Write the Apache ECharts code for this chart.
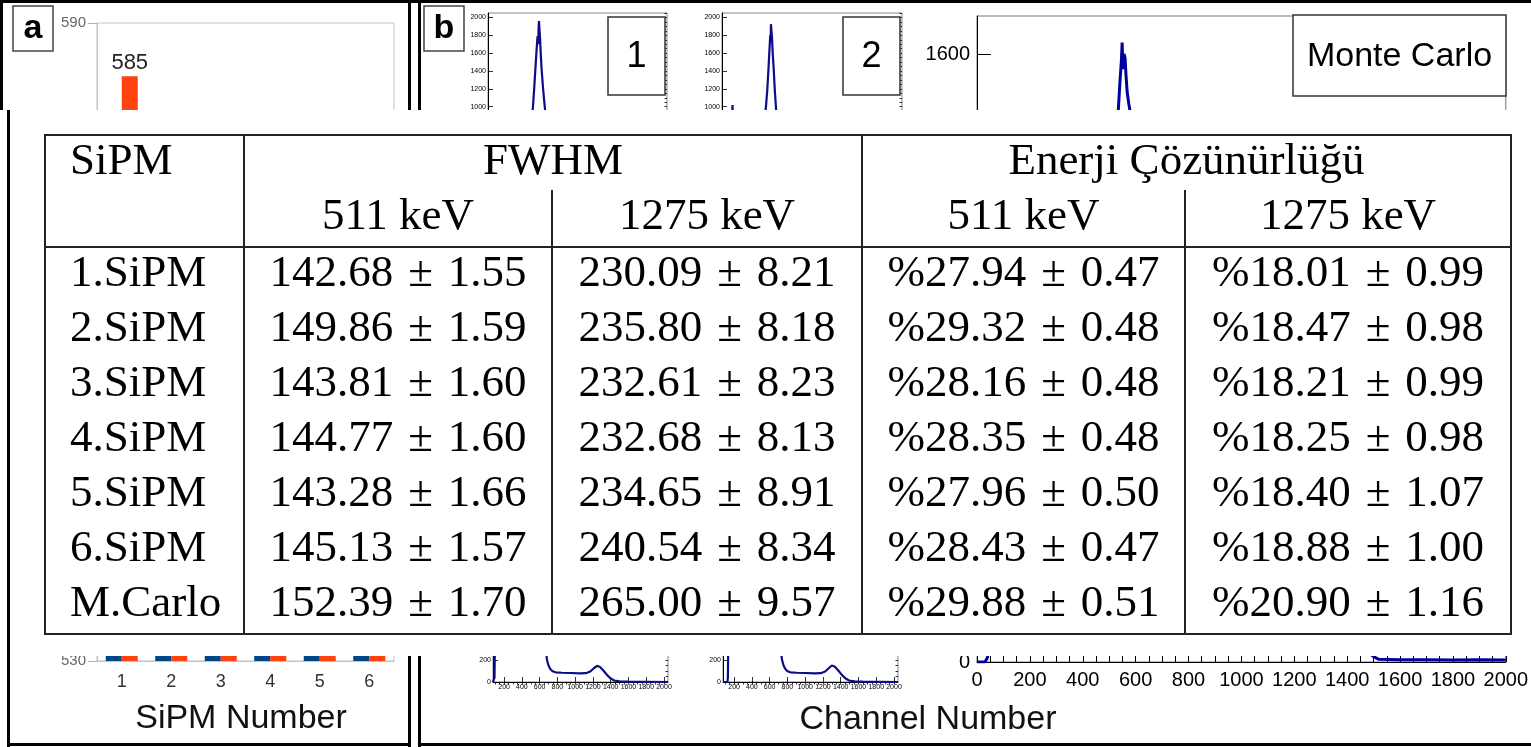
<!DOCTYPE html>
<html><head><meta charset="utf-8">
<script src="https://cdn.jsdelivr.net/npm/echarts@6/dist/echarts.min.js"></script>
<style>html,body{margin:0;padding:0;background:#fff}#c{width:1531px;height:747px}</style>
</head><body><div id="c"></div>
<script>
// ---------------- DATA ----------------
// Panel a (bar chart, mostly hidden behind the table)
const sipmCategories = ['1', '2', '3', '4', '5', '6'];
const barBlue   = [561, 566, 562, 565, 560, 567];
const barOrange = [585, 574, 571, 572, 569, 576];
const barAxisTicks = [530, 540, 550, 560, 570, 580, 590];

// Panel b histograms: [channel, counts]
const sipm1Hist = [[75,0],[90,250],[100,900],[110,800],[130,520],[170,380],[220,330],[280,320],[340,340],[400,380],[450,430],[500,520],[530,640],[550,780],[570,1000],[585,1230],[600,1480],[610,1640],[620,1790],[628,1700],[632,1880],[636,1960],[642,1860],[648,1760],[655,1600],[665,1420],[680,1220],[692,1080],[702,980],[715,800],[730,560],[745,360],[760,220],[780,140],[800,110],[900,95],[1000,90],[1100,85],[1150,92],[1200,120],[1250,148],[1290,140],[1330,105],[1370,60],[1410,25],[1450,10],[1500,6],[1600,4],[1800,3],[2000,1],[2045,0]];
const sipm2Hist = [[75,0],[90,250],[100,900],[112,800],[130,520],[170,390],[190,1020],[200,380],[220,340],[280,330],[340,350],[400,400],[450,470],[500,600],[530,760],[556,1000],[570,1180],[585,1450],[595,1650],[603,1800],[607,1720],[611,1925],[616,1850],[622,1780],[630,1600],[642,1400],[652,1200],[665,1000],[680,760],[695,520],[710,330],[730,200],[750,130],[780,100],[900,90],[1000,85],[1100,80],[1150,90],[1200,118],[1250,142],[1290,135],[1330,100],[1370,55],[1410,22],[1450,9],[1500,5],[1600,3],[1800,2],[2000,1],[2045,0]];
const sipm5Hist = [[75,0],[92,40],[97,400],[105,1300],[120,900],[150,560],[200,420],[260,380],[320,390],[380,430],[440,560],[490,900],[520,1300],[545,1750],[560,1900],[575,1750],[600,1300],[625,900],[650,520],[668,300],[683,200],[700,150],[720,118],[745,98],[780,88],[850,84],[950,82],[1050,78],[1120,80],[1170,95],[1210,125],[1246,147],[1280,136],[1320,102],[1360,62],[1400,32],[1440,14],[1500,5],[1600,3],[1800,2],[2045,0]];
const sipm6Hist = [[75,0],[125,0],[130,40],[135,420],[142,1250],[160,880],[200,560],[250,430],[300,390],[360,400],[420,440],[470,560],[520,880],[555,1250],[590,1750],[612,1880],[630,1750],[655,1300],[680,900],[705,520],[723,300],[740,200],[757,150],[777,118],[800,98],[835,88],[905,84],[1005,82],[1105,78],[1175,80],[1225,95],[1265,125],[1300,150],[1335,138],[1375,102],[1415,62],[1455,32],[1495,14],[1555,5],[1650,3],[1850,2],[2045,0]];
const mcHist = [[0,0],[30,0],[40,12],[48,300],[60,900],[80,700],[120,500],[200,420],[300,450],[400,560],[460,760],[500,1050],[520,1260],[530,1400],[536,1470],[541,1530],[546,1580],[549,1630],[552,1560],[556,1600],[560,1590],[564,1540],[568,1500],[574,1470],[580,1445],[590,1300],[605,1000],[625,600],[650,350],[680,250],[750,220],[900,210],[1050,200],[1150,230],[1230,320],[1270,350],[1310,300],[1360,180],[1420,80],[1470,30],[1505,12],[1520,7],[1600,6],[1700,6],[1800,5],[1900,6],[2000,5]];

const smallXMajor = [200, 400, 600, 800, 1000, 1200, 1400, 1600, 1800, 2000];
const smallYMajor = [0, 200, 400, 600, 800, 1000, 1200, 1400, 1600, 1800, 2000];
const mcYMajor = [0, 200, 400, 600, 800, 1000, 1200, 1400, 1600];

// Table
const tableRowLabels = ['1.SiPM', '2.SiPM', '3.SiPM', '4.SiPM', '5.SiPM', '6.SiPM', 'M.Carlo'];
const fwhm511     = [142.68, 149.86, 143.81, 144.77, 143.28, 145.13, 152.39];
const fwhm511Err  = [1.55, 1.59, 1.60, 1.60, 1.66, 1.57, 1.70];
const fwhm1275    = [230.09, 235.80, 232.61, 232.68, 234.65, 240.54, 265.00];
const fwhm1275Err = [8.21, 8.18, 8.23, 8.13, 8.91, 8.34, 9.57];
const res511      = [27.94, 29.32, 28.16, 28.35, 27.96, 28.43, 29.88];
const res511Err   = [0.47, 0.48, 0.48, 0.48, 0.50, 0.47, 0.51];
const res1275     = [18.01, 18.47, 18.21, 18.25, 18.40, 18.88, 20.90];
const res1275Err  = [0.99, 0.98, 0.99, 0.98, 1.07, 1.00, 1.16];

// ---------------- LAYOUT ----------------
function seq(a, b, s) { const r = []; for (let v = a; v <= b + 1e-9; v += s) r.push(v); return r; }
const smallXMinor = seq(100, 2000, 50);
const smallYMinor = seq(0, 2050, 50);
const mcYMinor = seq(0, 1700, 50);
const plain = function (v) { return String(v); };

const SANS = '"Liberation Sans", Arial, sans-serif';
const SERIF = '"Liberation Serif", "Times New Roman", serif';
const HIST = '#0c0c8a';

const grids = [
  {left: 97, top: 23, width: 297, height: 638, show: true, borderColor: '#c3c3c3', borderWidth: 1},
  {left: 488, top: 13, width: 179, height: 183, show: true, borderColor: '#888', borderWidth: 1},
  {left: 722, top: 13, width: 180, height: 183, show: true, borderColor: '#888', borderWidth: 1},
  {left: 493, top: 462, width: 175, height: 220, show: true, borderColor: '#888', borderWidth: 1},
  {left: 723, top: 462, width: 175, height: 220, show: true, borderColor: '#888', borderWidth: 1},
  {left: 977, top: 16, width: 533, height: 646, show: true, borderColor: '#777', borderWidth: 1}
];

const xAxes = [{
  gridIndex: 0, type: 'category', data: sipmCategories,
  axisLine: {lineStyle: {color: '#c3c3c3', width: 1}},
  axisTick: {length: 6, lineStyle: {color: '#b3b3b3'}},
  axisLabel: {color: '#333', fontSize: 18, margin: 12, fontFamily: SANS}
}];
const yAxes = [{
  gridIndex: 0, type: 'value', min: 530, max: 590, interval: 10,
  axisLine: {show: true, lineStyle: {color: '#c3c3c3'}},
  axisTick: {show: true, length: 9, lineStyle: {color: '#b3b3b3'}},
  axisLabel: {color: '#666', fontSize: 15, margin: 11, fontFamily: SANS, customValues: barAxisTicks, formatter: plain},
  splitLine: {show: false}
}];

const series = [
  {type: 'bar', xAxisIndex: 0, yAxisIndex: 0, data: barBlue, barWidth: 16, barGap: '0%',
   itemStyle: {color: '#004586'}, label: {show: true, position: 'top', distance: 2, fontSize: 22, color: '#222', fontFamily: SANS}},
  {type: 'bar', xAxisIndex: 0, yAxisIndex: 0, data: barOrange, barWidth: 16, barGap: '0%',
   itemStyle: {color: '#ff420e'}, label: {show: true, position: 'top', distance: 2, fontSize: 22, color: '#222', fontFamily: SANS}}
];

function addSmall(g, ymax, data) {
  const xi = xAxes.length, yi = yAxes.length;
  xAxes.push({gridIndex: g, type: 'value', min: 75, max: 2045,
    axisLine: {lineStyle: {color: '#000', width: 1}},
    axisTick: {inside: true, length: 5, customValues: smallXMajor, lineStyle: {color: '#000', width: 0.8}},
    axisLabel: {customValues: smallXMajor, fontSize: 7, margin: 2, color: '#000', fontFamily: SANS, formatter: plain},
    splitLine: {show: false}});
  xAxes.push({gridIndex: g, type: 'value', min: 75, max: 2045,
    axisLine: {show: false}, axisLabel: {show: false}, splitLine: {show: false},
    axisTick: {inside: true, length: 2.5, customValues: smallXMinor, lineStyle: {color: '#000', width: 0.8}}});
  yAxes.push({gridIndex: g, type: 'value', min: 0, max: ymax,
    axisLine: {show: true, lineStyle: {color: '#000', width: 1}},
    axisTick: {show: true, inside: true, length: 5, customValues: smallYMajor, lineStyle: {color: '#000', width: 0.8}},
    axisLabel: {customValues: smallYMajor, fontSize: 7, margin: 2, color: '#000', fontFamily: SANS, formatter: plain},
    splitLine: {show: false}});
  yAxes.push({gridIndex: g, type: 'value', min: 0, max: ymax,
    axisLine: {show: false}, axisLabel: {show: false}, splitLine: {show: false},
    axisTick: {show: true, inside: true, length: 2.5, customValues: smallYMinor, lineStyle: {color: '#000', width: 0.8}}});
  series.push({type: 'line', xAxisIndex: xi, yAxisIndex: yi, data: data, showSymbol: false, symbol: 'none',
    lineStyle: {color: HIST, width: 2.2}, z: 3, silent: true});
}
addSmall(1, 2050, sipm1Hist);
addSmall(2, 2050, sipm2Hist);
addSmall(3, 2000, sipm5Hist);
addSmall(4, 2000, sipm6Hist);

(function addMC() {
  const xi = xAxes.length, yi = yAxes.length;
  xAxes.push({gridIndex: 5, type: 'value', min: 0, max: 2000, interval: 200,
    axisLine: {lineStyle: {color: '#000', width: 1}},
    axisTick: {inside: true, length: 12, lineStyle: {color: '#000'}},
    minorTick: {show: true, splitNumber: 4, length: 6, lineStyle: {color: '#000'}},
    axisLabel: {fontSize: 20, margin: 8, color: '#000', fontFamily: SANS, formatter: plain},
    splitLine: {show: false}, minorSplitLine: {show: false}});
  yAxes.push({gridIndex: 5, type: 'value', min: 0, max: 1700,
    axisLine: {show: true, lineStyle: {color: '#000', width: 1}},
    axisTick: {show: true, inside: true, length: 14, customValues: mcYMajor, lineStyle: {color: '#000'}},
    axisLabel: {customValues: mcYMajor, fontSize: 20, margin: 7, color: '#000', fontFamily: SANS, formatter: plain},
    splitLine: {show: false}});
  yAxes.push({gridIndex: 5, type: 'value', min: 0, max: 1700,
    axisLine: {show: false}, axisLabel: {show: false}, splitLine: {show: false},
    axisTick: {show: true, inside: true, length: 7, customValues: mcYMinor, lineStyle: {color: '#000'}}});
  series.push({type: 'line', xAxisIndex: xi, yAxisIndex: yi, data: mcHist, showSymbol: false, symbol: 'none',
    lineStyle: {color: '#0000a0', width: 3}, z: 3, silent: true});
})();

// ---------------- GRAPHIC (boxes, overlay table) ----------------
const G = [];
function rect(x, y, w, h, style, z) { G.push({type: 'rect', shape: {x: x, y: y, width: w, height: h}, style: style, z: z, silent: true}); }
function line(x1, y1, x2, y2, stroke, lw, z) { G.push({type: 'line', shape: {x1: x1, y1: y1, x2: x2, y2: y2}, style: {stroke: stroke, lineWidth: lw}, z: z, silent: true}); }
function text(x, y, t, font, align, z, fill) {
  G.push({type: 'text', x: x, y: y, z: z, silent: true,
    style: {text: t, font: font, textAlign: align, textVerticalAlign: 'middle', align: align, verticalAlign: 'middle', fill: fill || '#000'}});
}

// panel label boxes
rect(13, 6, 40, 45, {fill: '#fff', stroke: '#444', lineWidth: 1.5}, 60);
text(33, 29, 'a', 'bold 34px ' + SANS, 'center', 61);
rect(424, 6, 40, 45, {fill: '#fff', stroke: '#444', lineWidth: 1.5}, 60);
text(444, 29, 'b', 'bold 34px ' + SANS, 'center', 61);
// histogram legends
rect(608, 17, 57, 78, {fill: '#fff', stroke: '#333', lineWidth: 1.5}, 60);
text(636.5, 57, '1', '36px ' + SANS, 'center', 61);
rect(843, 17, 57, 78, {fill: '#fff', stroke: '#333', lineWidth: 1.5}, 60);
text(871.5, 57, '2', '36px ' + SANS, 'center', 61);
rect(1293, 15, 213, 81, {fill: '#fff', stroke: '#333', lineWidth: 1.5}, 60);
text(1399.5, 57, 'Monte Carlo', '34px ' + SANS, 'center', 61);
// axis titles
text(241, 719, 'SiPM Number', '34px ' + SANS, 'center', 61, '#111');
text(928, 720, 'Channel Number', '34px ' + SANS, 'center', 61, '#111');

// overlay white area carrying the table
rect(10, 110, 1521, 546, {fill: '#fff'}, 100);
const TL = 45, TR = 1511, TT = 135, TB = 634, TH = 247, TS = 190;
const C1 = 244, C2 = 552, C3 = 862, C4 = 1185;
const TC = '#222';
rect(TL, TT, TR - TL, TB - TT, {fill: 'none', stroke: TC, lineWidth: 2}, 101);
line(C1, TT, C1, TB, TC, 2, 101);
line(C3, TT, C3, TB, TC, 2, 101);
line(C2, TS, C2, TB, TC, 2, 101);
line(C4, TS, C4, TB, TC, 2, 101);
line(TL, TH, TR, TH, TC, 2, 101);

const F = '45px ' + SERIF;
const hy1 = 162, hy2 = 217;
text(70, hy1, 'SiPM', F, 'left', 102);
text((C1 + C3) / 2, hy1, 'FWHM', F, 'center', 102);
text((C3 + TR) / 2, hy1, 'Enerji Çözünürlüğü', F, 'center', 102);
const colC = [(C1 + C2) / 2, (C2 + C3) / 2, (C3 + C4) / 2, (C4 + TR) / 2];
text(colC[0], hy2, '511 keV', F, 'center', 102);
text(colC[1], hy2, '1275 keV', F, 'center', 102);
text(colC[2], hy2, '511 keV', F, 'center', 102);
text(colC[3], hy2, '1275 keV', F, 'center', 102);
const PM = '\u2004±\u2004';
for (let i = 0; i < tableRowLabels.length; i++) {
  const y = 274 + i * 55.1;
  text(70, y, tableRowLabels[i], F, 'left', 102);
  text(colC[0], y, fwhm511[i].toFixed(2) + PM + fwhm511Err[i].toFixed(2), F, 'center', 102);
  text(colC[1], y, fwhm1275[i].toFixed(2) + PM + fwhm1275Err[i].toFixed(2), F, 'center', 102);
  text(colC[2], y, '%' + res511[i].toFixed(2) + PM + res511Err[i].toFixed(2), F, 'center', 102);
  text(colC[3], y, '%' + res1275[i].toFixed(2) + PM + res1275Err[i].toFixed(2), F, 'center', 102);
}

// figure frame lines
const K = {fill: '#000'};
rect(0, 0, 1531, 3, K, 110);
rect(0, 0, 3, 110, K, 110);
rect(7, 110, 3, 637, K, 110);
rect(408, 0, 3, 110, K, 110);
rect(408, 656, 3, 91, K, 110);
rect(418, 0, 3, 110, K, 110);
rect(418, 656, 3, 91, K, 110);
rect(7, 743, 404, 3, K, 110);
rect(418, 743, 1113, 3, K, 110);

const chart = echarts.init(document.getElementById('c'), null, {renderer: 'canvas', width: 1531, height: 747});
chart.setOption({
  animation: false,
  backgroundColor: '#fff',
  grid: grids,
  xAxis: xAxes,
  yAxis: yAxes,
  series: series,
  graphic: {elements: G}
});
</script>
</body></html>
